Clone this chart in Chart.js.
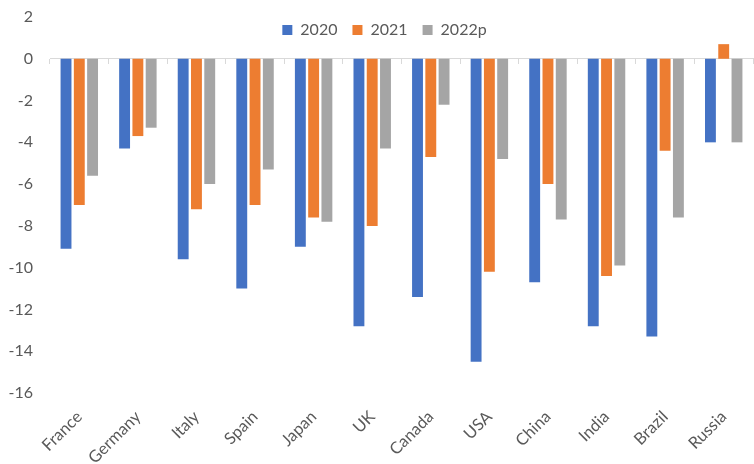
<!DOCTYPE html>
<html>
<head>
<meta charset="utf-8">
<script src="https://cdn.jsdelivr.net/npm/chart.js@4/dist/chart.umd.min.js"></script>
<style>
html,body{margin:0;padding:0;background:#fff;}
#wrap{width:754px;height:464px;position:relative;}
</style>
</head>
<body>
<div id="wrap"><canvas id="c"></canvas></div>
<script>
const categories = ["France","Germany","Italy","Spain","Japan","UK","Canada","USA","China","India","Brazil","Russia"];
const seriesNames = ["2020","2021","2022p"];
const values2020 = [-9.1,-4.3,-9.6,-11.0,-9.0,-12.8,-11.4,-14.5,-10.7,-12.8,-13.3,-4.0];
const values2021 = [-7.0,-3.7,-7.2,-7.0,-7.6,-8.0,-4.7,-10.2,-6.0,-10.4,-4.4,0.7];
const values2022 = [-5.6,-3.3,-6.0,-5.3,-7.8,-4.3,-2.2,-4.8,-7.7,-9.9,-7.6,-4.0];
const yTicks = [-16,-14,-12,-10,-8,-6,-4,-2,0,2];

const colors = ["#4472C4","#ED7D31","#A5A5A5"];
const textColor = "#595959";
const font = {family: "Lato, 'Open Sans', sans-serif", size: 16};

const ds = [values2020, values2021, values2022].map((v,i)=>({
  label: seriesNames[i],
  data: v,
  backgroundColor: colors[i],
  borderWidth: 0,
  categoryPercentage: 0.68,
  barPercentage: 0.82
}));

// Let the legend float over the top of the plot area (as in the reference)
const legendOverlay = {
  id: 'legendOverlay',
  beforeUpdate(chart) {
    const lg = chart.legend;
    if (lg && !lg._patched) {
      const orig = lg.fit.bind(lg);
      lg.fit = function() { orig(); this._realHeight = this.height; this.height = 0; };
      lg._patched = true;
    }
  },
  afterLayout(chart) {
    const lg = chart.legend;
    if (lg && lg._realHeight) {
      lg.top = 7;
      lg.height = lg._realHeight;
      lg.bottom = lg.top + lg._realHeight;
      lg.left += 8;
      lg.right += 8;
    }
  }
};

new Chart(document.getElementById('c'), {
  type: 'bar',
  data: {labels: categories, datasets: ds},
  plugins: [legendOverlay],
  options: {
    responsive: true,
    maintainAspectRatio: false,
    animation: false,
    layout: {padding: {top: 17, right: 1, left: 0, bottom: 0}},
    plugins: {
      legend: {
        position: 'top',
        align: 'center',
        labels: {
          color: textColor,
          font: font,
          boxWidth: 10,
          boxHeight: 10,
          padding: 15
        }
      },
      tooltip: {enabled: false}
    },
    scales: {
      y: {
        min: -16, max: 2,
        afterBuildTicks: (s)=>{ s.ticks = yTicks.map(v=>({value:v})); },
        afterFit: (s)=>{ s.width = 50; s.paddingTop = 0; s.paddingBottom = 0; },
        grid: {display: false},
        border: {display: false},
        ticks: {color: textColor, font: font, padding: 9}
      },
      x: {
        afterFit: (s)=>{ s.height = 71; s.paddingLeft = 0; s.paddingRight = 0; },
        grid: {display: false},
        border: {display: false},
        ticks: {color: textColor, font: {family: font.family, size: 16.5}, minRotation: 45, maxRotation: 45, padding: 6}
      },
      x2: {
        type: 'category',
        position: {y: 0},
        offset: true,
        border: {display: true, color: '#D9D9D9', width: 1},
        grid: {display: true, drawOnChartArea: false, offset: true, color: '#D9D9D9', tickLength: 5},
        ticks: {display: false}
      }
    }
  }
});
</script>
</body>
</html>
